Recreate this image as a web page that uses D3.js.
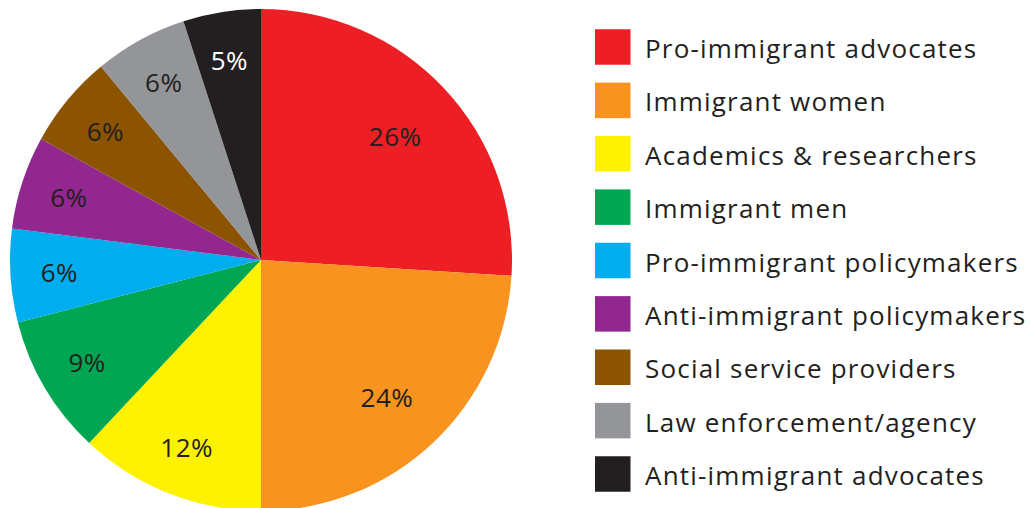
<!DOCTYPE html>
<html>
<head>
<meta charset="utf-8">
<script src="https://cdn.jsdelivr.net/npm/d3@7"></script>
<style>
  html, body { margin: 0; padding: 0; background: #ffffff; }
  svg { display: block; }
  text { font-family: "Open Sans", "Noto Sans", sans-serif; }
</style>
</head>
<body>
<svg id="chart" width="1030" height="508"></svg>
<script>
const categories = [
  "Pro-immigrant advocates",
  "Immigrant women",
  "Academics & researchers",
  "Immigrant men",
  "Pro-immigrant policymakers",
  "Anti-immigrant policymakers",
  "Social service providers",
  "Law enforcement/agency",
  "Anti-immigrant advocates"
];
const values = [26, 24, 12, 9, 6, 6, 6, 6, 5];
const colors = ["#ed1f24", "#f7931e", "#fff200", "#00a651", "#00aeef", "#92278f", "#8c5400", "#939598", "#231f20"];
const labelColors = ["#231f20", "#231f20", "#231f20", "#231f20", "#231f20", "#231f20", "#231f20", "#231f20", "#ffffff"];

const svg = d3.select("#chart");
const cx = 261, cy = 260, R = 251;

const data = categories.map((c, i) => ({ cat: c, value: values[i], i }));
const pie = d3.pie().value(d => d.value).sort(null);
const arcs = pie(data);
const arc = d3.arc().innerRadius(0).outerRadius(R);

const g = svg.append("g").attr("transform", `translate(${cx},${cy})`);
g.selectAll("path").data(arcs).join("path")
  .attr("d", arc)
  .attr("fill", d => colors[d.data.i]);

const labelArcBig = d3.arc().innerRadius(184).outerRadius(184);
const labelArcSmall = d3.arc().innerRadius(202).outerRadius(202);
g.selectAll("text.pct").data(arcs).join("text")
  .attr("class", "pct")
  .attr("transform", d => {
    const p = (d.data.value >= 20 ? labelArcBig : labelArcSmall).centroid(d);
    return `translate(${p[0]},${p[1] + (d.data.value >= 20 ? 3 : 0)})`;
  })
  .attr("text-anchor", "middle")
  .attr("dy", "0.36em")
  .attr("font-size", 26)
  .attr("letter-spacing", 0.5)
  .attr("fill", d => labelColors[d.data.i])
  .text(d => d.data.value + "%");

// Legend
const legend = svg.append("g");
const ly = d3.scalePoint().domain(categories).range([47, 474]);
const rows = legend.selectAll("g.row").data(data).join("g")
  .attr("class", "row")
  .attr("transform", d => `translate(595,${ly(d.cat)})`);
rows.append("rect")
  .attr("x", 0).attr("y", -17.75)
  .attr("width", 35.5).attr("height", 35.5)
  .attr("fill", d => colors[d.i]);
rows.append("text")
  .attr("x", 50).attr("y", 11)
  .attr("font-size", 26)
  .attr("letter-spacing", 1.2)
  .attr("fill", "#231f20")
  .text(d => d.cat);
</script>
</body>
</html>
